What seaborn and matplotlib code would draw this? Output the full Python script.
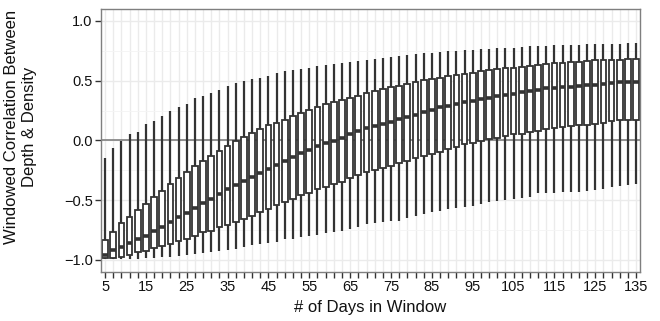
import numpy as np
import pandas as pd
import matplotlib
matplotlib.use("Agg")
import matplotlib.pyplot as plt
import seaborn as sns

# window lengths (days), one box each
windows = list(range(5, 137, 2))

# five-number summaries
lows = [-0.995, -0.994, -0.994, -0.990, -0.989, -0.983, -0.980, -0.978, -0.972, -0.964, -0.958,
        -0.953, -0.944, -0.933, -0.922, -0.916, -0.905, -0.894, -0.877, -0.866, -0.855, -0.847,
        -0.827, -0.822, -0.811, -0.799, -0.791, -0.777, -0.769, -0.755, -0.741, -0.727, -0.702,
        -0.694, -0.682, -0.674, -0.671, -0.652, -0.632, -0.616, -0.596, -0.591, -0.577, -0.568,
        -0.554, -0.546, -0.532, -0.518, -0.507, -0.499, -0.490, -0.479, -0.471, -0.443, -0.440,
        -0.437, -0.435, -0.432, -0.429, -0.423, -0.415, -0.409, -0.387, -0.379, -0.370, -0.365]
q1 = [-0.986, -0.986, -0.972, -0.958, -0.936, -0.922, -0.897, -0.880, -0.866, -0.841, -0.825,
      -0.799, -0.763, -0.755, -0.727, -0.708, -0.680, -0.657, -0.630, -0.596, -0.574, -0.543,
      -0.518, -0.493, -0.460, -0.437, -0.409, -0.387, -0.365, -0.345, -0.318, -0.290, -0.267,
      -0.248, -0.228, -0.212, -0.192, -0.170, -0.150, -0.131, -0.117, -0.095, -0.072, -0.053,
      -0.033, -0.019, -0.006, 0.008, 0.022, 0.036, 0.050, 0.058, 0.070, 0.078, 0.097,
      0.106, 0.114, 0.120, 0.128, 0.128, 0.136, 0.142, 0.162, 0.170, 0.170, 0.170]
medians = [-0.958, -0.916, -0.891, -0.861, -0.827, -0.797, -0.758, -0.721, -0.680, -0.643, -0.605,
           -0.568, -0.526, -0.490, -0.446, -0.409, -0.373, -0.340, -0.304, -0.270, -0.242, -0.206,
           -0.170, -0.136, -0.103, -0.081, -0.047, -0.025, -0.003, 0.022, 0.050, 0.075, 0.100,
           0.117, 0.134, 0.156, 0.178, 0.198, 0.217, 0.240, 0.253, 0.276, 0.292, 0.309,
           0.323, 0.331, 0.343, 0.359, 0.370, 0.382, 0.390, 0.404, 0.412, 0.421, 0.435,
           0.440, 0.443, 0.448, 0.457, 0.462, 0.465, 0.471, 0.482, 0.485, 0.487, 0.487]
q3 = [-0.833, -0.763, -0.694, -0.638, -0.582, -0.532, -0.476, -0.421, -0.365, -0.318, -0.267,
      -0.212, -0.170, -0.131, -0.086, -0.047, -0.006, 0.031, 0.064, 0.097, 0.128, 0.150,
      0.175, 0.203, 0.226, 0.253, 0.281, 0.301, 0.320, 0.337, 0.359, 0.373, 0.393,
      0.412, 0.429, 0.443, 0.454, 0.476, 0.490, 0.504, 0.515, 0.526, 0.538, 0.546,
      0.560, 0.568, 0.579, 0.593, 0.596, 0.602, 0.610, 0.618, 0.627, 0.635, 0.643,
      0.649, 0.652, 0.657, 0.657, 0.666, 0.669, 0.671, 0.674, 0.677, 0.682, 0.682]
highs = [-0.145, -0.067, -0.006, 0.053, 0.072, 0.134, 0.164, 0.203, 0.245, 0.281, 0.309,
         0.359, 0.373, 0.393, 0.421, 0.454, 0.482, 0.496, 0.513, 0.526, 0.540, 0.563,
         0.579, 0.588, 0.596, 0.610, 0.621, 0.630, 0.638, 0.649, 0.657, 0.666, 0.674,
         0.682, 0.691, 0.699, 0.708, 0.719, 0.727, 0.733, 0.735, 0.741, 0.747, 0.749,
         0.755, 0.760, 0.766, 0.769, 0.772, 0.774, 0.777, 0.783, 0.788, 0.791, 0.794,
         0.797, 0.799, 0.802, 0.802, 0.805, 0.808, 0.811, 0.811, 0.811, 0.813, 0.813]

# long table: 5 values per window give exactly these quartiles/whiskers
rows = []
for w, a, b, c, d, e in zip(windows, lows, q1, medians, q3, highs):
    for v in (a, b, c, d, e):
        rows.append({"window": str(w), "corr": v})
df = pd.DataFrame(rows)

sns.set_style("white")
plt.rcParams["font.family"] = ["Liberation Sans", "DejaVu Sans"]

fig = plt.figure(figsize=(6.6, 3.21), dpi=100)
ax = fig.add_axes([0.153, 0.153, 0.817, 0.819])

ax.axhline(0, color="#808080", lw=1.2, zorder=1.5)

sns.boxplot(data=df, x="window", y="corr", order=[str(w) for w in windows],
            whis=(0, 100), color="white", linecolor="#333333", linewidth=1.3,
            width=0.7, showcaps=False, saturation=1,
            medianprops=dict(linewidth=2.6, color="#333333"),
            whiskerprops=dict(linewidth=1.6, color="#333333"),
            ax=ax)

ax.set_xlim(-0.5, len(windows) - 0.5)
ax.set_ylim(-1.1, 1.1)
ax.set_yticks([-1.0, -0.5, 0.0, 0.5, 1.0])
ax.set_yticks([-0.75, -0.25, 0.25, 0.75], minor=True)
ax.set_xticks(range(len(windows)))
ax.set_xticklabels([str(w) if (w - 5) % 10 == 0 else "" for w in windows])

ax.grid(True, which="major", color="#ebebeb", lw=1.0, zorder=0)
ax.grid(True, which="minor", axis="y", color="#f4f4f4", lw=0.6, zorder=0)
ax.set_axisbelow(True)

for s in ax.spines.values():
    s.set_color("#7f7f7f")
    s.set_linewidth(1.0)

ax.tick_params(axis="both", which="major", direction="out", length=4, width=1,
               bottom=True, left=True, color="#333333", labelsize=10.5,
               labelcolor="#111111", pad=2)
ax.tick_params(axis="y", which="minor", length=0, left=False)

ax.set_xlabel("# of Days in Window", fontsize=12, labelpad=4, color="#111111")
ax.set_ylabel("Windowed Correlation Between\nDepth & Density", fontsize=12,
              linespacing=1.2, color="#111111")
ax.yaxis.set_label_coords(-0.119, 0.55)

fig.savefig("out.png", dpi=100)
